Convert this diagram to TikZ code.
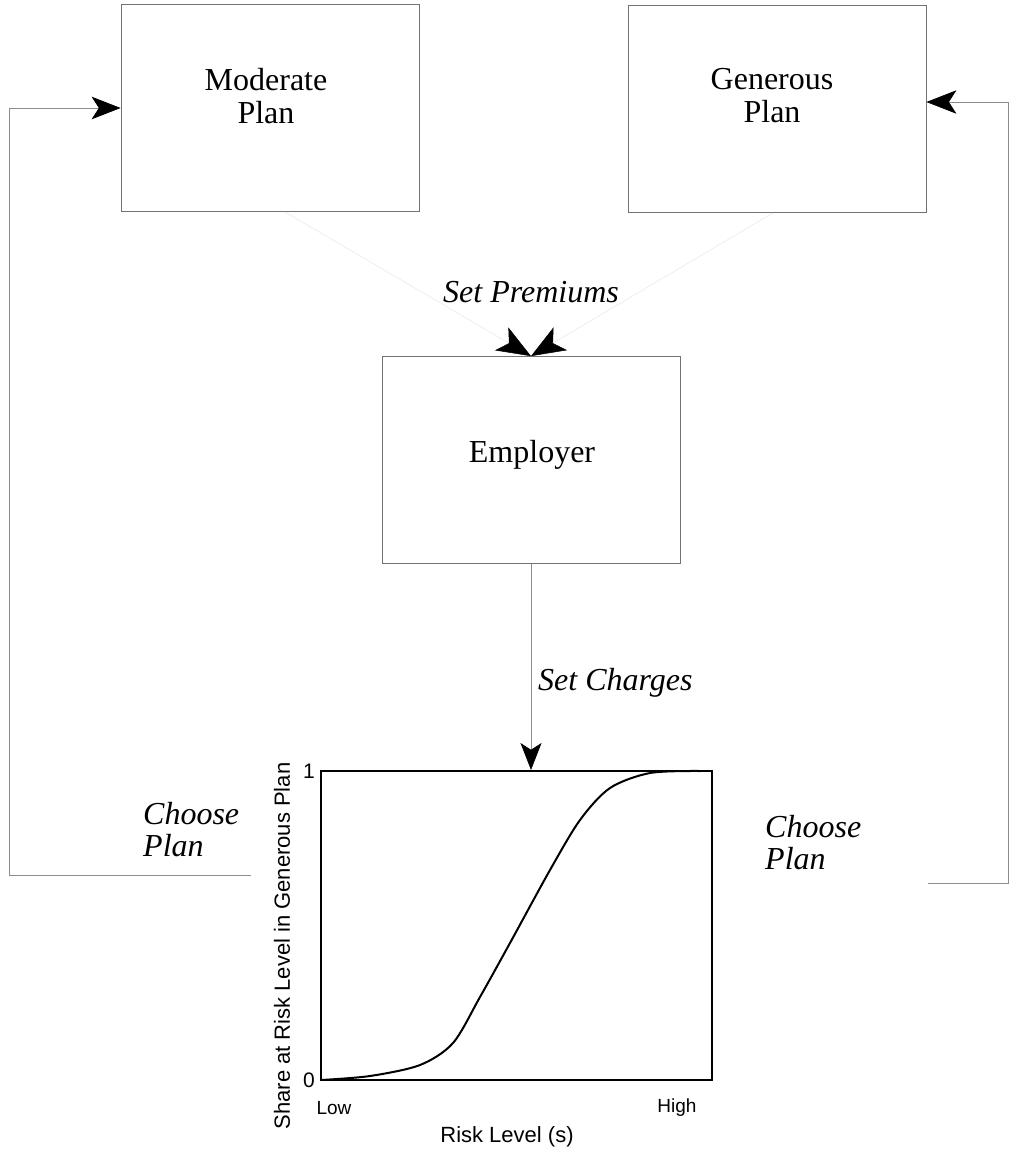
\documentclass[tikz,border=0pt]{standalone}
\usepackage{fontspec}
\setmainfont{Liberation Serif}
\setsansfont{Liberation Sans}
\usetikzlibrary{arrows.meta}
\tikzset{
  planbox/.style={draw=black!55, line width=0.8pt, minimum width=298pt, minimum height=207pt, inner sep=0pt},
  boxtext/.style={font=\fontsize{32}{33}\selectfont, align=center, inner sep=0pt},
  steptext/.style={font=\fontsize{32}{32}\selectfont\itshape, align=left, inner sep=0pt},
  flow/.style={draw=black!45, line width=0.7pt},
  faint/.style={draw=black!10, line width=0.5pt},
  axtext/.style={font=\sffamily\fontsize{21}{23}\selectfont, inner sep=0pt},
  head/.style={-{Stealth[length=#1, width=0.78*#1, inset=0.25*#1, color=black]}},
}
\begin{document}
\begin{tikzpicture}[x=1pt, y=-1pt]
  \useasboundingbox (0,0) rectangle (1010,1154);

  \node[planbox] (mod) at (270,108) {};
  \node[planbox] (gen) at (777,109) {};
  \node[planbox] (emp) at (531,460) {};
  \node[boxtext] (modtext) at (266,96) {Moderate\\Plan};
  \node[boxtext] (gentext) at (772,96) {Generous\\Plan};
  \node[boxtext, anchor=base] (emptext) at (532,462) {Employer};

  \node[steptext, anchor=base] (prem) at (531,302) {Set Premiums};
  \node[steptext, anchor=base west] (chg) at (538,690) {Set Charges};
  \node[steptext, anchor=west] (choosel) at (143,830) {Choose\\Plan};
  \node[steptext, anchor=west] (chooser) at (765,843) {Choose\\Plan};

  \node[draw, line width=2pt, minimum width=391pt, minimum height=309pt, inner sep=0pt] (plot) at (516.5,925.5) {};
  \draw[line width=2pt, line join=round] plot[smooth] coordinates {
    (321,1080) (370,1076) (420,1065) (453,1043) (480,997) (510,943)
    (550,870) (580,820) (610,788) (650,773) (700,771)};
  \node[axtext] (one) at (309,771) {1};
  \node[axtext] (zero) at (309,1080) {0};
  \node[axtext, font=\sffamily\fontsize{19}{21}\selectfont] (low) at (334,1108) {Low};
  \node[axtext, font=\sffamily\fontsize{19}{21}\selectfont] (high) at (677,1108) {High};
  \node[axtext, font=\sffamily\fontsize{22}{24}\selectfont] (xlab) at (507,1137) {Risk Level (s)};
  \node[axtext, font=\sffamily\fontsize{22}{24}\selectfont, rotate=90] (ylab) at (282,946) {Share at Risk Level in Generous Plan};

  \coordinate (lend) at (251,875);
  \coordinate (rend) at (928,883);
  \coordinate (lturn) at (9,0);
  \coordinate (rturn) at (1008,0);
  \coordinate (genin) at ([yshift=7pt]gen.east);

  \draw[faint, head=34pt] ([xshift=15pt]mod.south) -- (emp.north);
  \draw[faint, head=34pt] ([xshift=-4pt]gen.south) -- (emp.north);
  \draw[flow, head=27pt] (emp.south) -- (emp.south |- plot.north);
  \draw[flow, head=29pt] (lend) -| (lturn |- mod.west) -- (mod.west);
  \draw[flow, head=30pt] (rend) -| (rturn |- genin) -- (genin);
\end{tikzpicture}
\end{document}
